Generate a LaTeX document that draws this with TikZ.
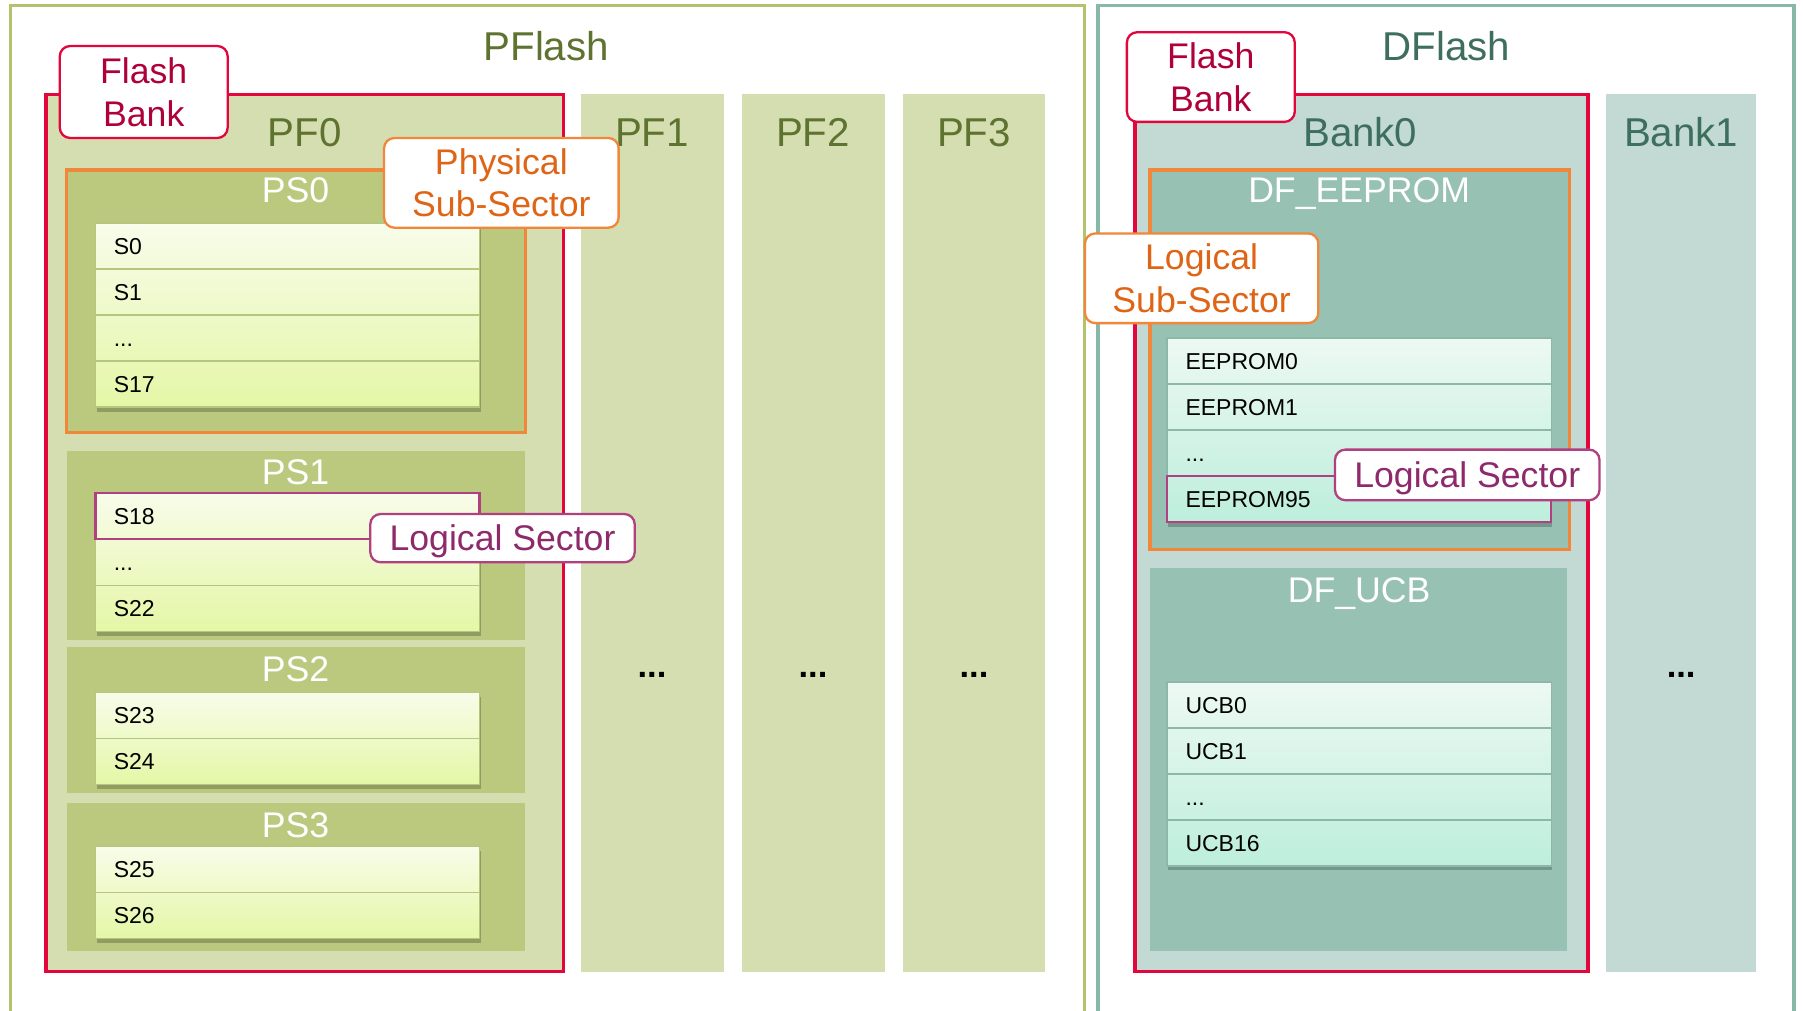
\documentclass[tikz,border=0pt]{standalone}
\usepackage{fontspec}
\setmainfont{Liberation Sans}
\usetikzlibrary{shadows}
\definecolor{pfborder}{HTML}{B2C36B}
\definecolor{pftitle}{HTML}{5F7330}
\definecolor{pfcol}{HTML}{D5DEB1}
\definecolor{psfill}{HTML}{BBC97E}
\definecolor{rowtop}{HTML}{F8FCEA}
\definecolor{rowbot}{HTML}{E4F7A6}
\definecolor{rowline}{HTML}{B5C77E}
\definecolor{redb}{HTML}{E2063C}
\definecolor{redtext}{HTML}{B0003A}
\definecolor{orangeb}{HTML}{F0873A}
\definecolor{orangetext}{HTML}{DF6516}
\definecolor{magb}{HTML}{B0407F}
\definecolor{magtext}{HTML}{8E2A6B}
\definecolor{dfborder}{HTML}{88B8A8}
\definecolor{dftitle}{HTML}{3E6E5E}
\definecolor{dfcol}{HTML}{C2DAD3}
\definecolor{dfsub}{HTML}{97C1B3}
\definecolor{drowtop}{HTML}{EDF9F3}
\definecolor{drowbot}{HTML}{BDEEDC}
\definecolor{drowline}{HTML}{8DB8A9}
\begin{document}
\begin{tikzpicture}[x=1pt,y=-1pt,
  box/.style 2 args={rectangle, anchor=north west, minimum width=#1pt, minimum height=#2pt, inner sep=0pt, outer sep=0pt},
  biglbl/.style={inner sep=0pt, text height=25pt, text depth=0pt, font=\fontsize{35}{40}\selectfont},
  midlbl/.style={inner sep=0pt, text height=22pt, text depth=0pt, font=\fontsize{31}{37}\selectfont},
  midfont/.style={font=\fontsize{31}{37}\selectfont},
  rowfont/.style={font=\fontsize{20}{24}\selectfont},
  callout/.style={draw=#1, line width=2pt, rounded corners=9pt, fill=white, align=center, inner sep=0pt, midfont},
  prow/.style={box={334}{40}, draw=rowline, line width=1.2pt, text width=302pt, inner xsep=16pt, align=left, rowfont, text height=14.3pt, text depth=0pt},
  drow/.style={box={334}{40}, draw=drowline, line width=1.2pt, text width=302pt, inner xsep=16pt, align=left, rowfont, text height=14.3pt, text depth=0pt},
  pstack/.style={top color=rowtop, bottom color=rowbot, drop shadow={shadow xshift=1pt, shadow yshift=-4pt, opacity=0.22, fill=black}},
  dstack/.style={top color=drowtop, bottom color=drowbot, drop shadow={shadow xshift=1pt, shadow yshift=-4pt, opacity=0.22, fill=black}},
  dots/.style={font=\fontsize{30}{34}\selectfont\bfseries}
]
\useasboundingbox (0,0) rectangle (1568,879);
\clip (0,0) rectangle (1568,879);
\fill[white] (0,0) rectangle (1568,879);

% ---------- PFlash ----------
\node[box={934}{920}, draw=pfborder, line width=3pt] (pflash) at (9,5) {};
\node[biglbl, text=pftitle] (pflashT) at (475,40) {PFlash};

\node[box={450}{763}, draw=redb, line width=3pt, fill=pfcol] (pf0) at (40,82) {};
\node[biglbl, text=pftitle] (pf0T) at (265,115) {PF0};

% PS0
\node[box={399}{228}, fill=psfill, draw=orangeb, line width=3pt] (ps0) at (58,148) {};
\node[midlbl, text=white] (ps0T) at (257,165) {PS0};
\node[box={334}{160}, pstack] (st0) at (83,194) {};
\node[prow] (s0) at (83,194) {S0};
\node[prow] (s1) at (83,234) {S1};
\node[prow] (s2) at (83,274) {...};
\node[prow] (s17) at (83,314) {S17};

% PS1
\node[box={399}{165}, fill=psfill] (ps1) at (58,392) {};
\node[midlbl, text=white] (ps1T) at (257,410) {PS1};
\node[box={334}{120}, pstack] (st1) at (83,429) {};
\node[prow] (s19) at (83,469) {...};
\node[prow] (s22) at (83,509) {S22};
\node[prow, draw=magb, line width=2pt] (s18) at (83,429) {S18};

% PS2
\node[box={399}{127}, fill=psfill] (ps2) at (58,563) {};
\node[midlbl, text=white] (ps2T) at (257,582) {PS2};
\node[box={334}{80}, pstack] (st2) at (83,602) {};
\node[prow] (s23) at (83,602) {S23};
\node[prow] (s24) at (83,642) {S24};

% PS3
\node[box={399}{129}, fill=psfill] (ps3) at (58,698) {};
\node[midlbl, text=white] (ps3T) at (257,717) {PS3};
\node[box={334}{80}, pstack] (st3) at (83,736) {};
\node[prow] (s25) at (83,736) {S25};
\node[prow] (s26) at (83,776) {S26};

% PF1-3
\node[box={125}{763}, fill=pfcol] (pf1) at (505,82) {};
\node[box={125}{763}, fill=pfcol] (pf2) at (645,82) {};
\node[box={124}{763}, fill=pfcol] (pf3) at (785,82) {};
\node[biglbl, text=pftitle] (pf1T) at (567,115) {PF1};
\node[biglbl, text=pftitle] (pf2T) at (707,115) {PF2};
\node[biglbl, text=pftitle] (pf3T) at (847,115) {PF3};
\node[dots] (pf1d) at (567,587) {...};
\node[dots] (pf2d) at (707,587) {...};
\node[dots] (pf3d) at (847,587) {...};

% callouts PFlash
\node[callout=redb, text=redtext, minimum width=146pt, minimum height=80pt] (fb1) at (125,80) {Flash\\Bank};
\node[callout=orangeb, text=orangetext, minimum width=204pt, minimum height=78pt] (pss) at (436,159) {Physical\\Sub-Sector};
\node[callout=magb, text=magtext, minimum width=230pt, minimum height=42pt, text height=22pt, text depth=0pt] (ls1) at (437,468) {Logical Sector};

% ---------- DFlash ----------
\node[box={605}{920}, draw=dfborder, line width=3pt] (dflash) at (955,5) {};
\node[biglbl, text=dftitle] (dflashT) at (1258,40) {DFlash};

\node[box={394}{763}, draw=redb, line width=3pt, fill=dfcol] (bank0) at (987,82) {};
\node[biglbl, text=dftitle] (bank0T) at (1183,115) {Bank0};

\node[box={365}{330}, fill=dfsub, draw=orangeb, line width=3pt] (dfe) at (1000,148) {};
\node[midlbl, text=white] (dfeT) at (1182,165) {DF\_EEPROM};
\node[box={334}{160}, dstack] (ste) at (1015,294) {};
\node[drow] (e0) at (1015,294) {EEPROM0};
\node[drow] (e1) at (1015,334) {EEPROM1};
\node[drow] (e2) at (1015,374) {...};
\node[drow, draw=magb, line width=2pt] (e95) at (1015,414) {EEPROM95};

\node[box={363}{333}, fill=dfsub] (dfu) at (1000,494) {};
\node[midlbl, text=white] (dfuT) at (1182,513) {DF\_UCB};
\node[box={334}{160}, dstack] (stu) at (1015,593) {};
\node[drow] (u0) at (1015,593) {UCB0};
\node[drow] (u1) at (1015,633) {UCB1};
\node[drow] (u2) at (1015,673) {...};
\node[drow] (u16) at (1015,713) {UCB16};

\node[box={130}{763}, fill=dfcol] (bank1) at (1397,82) {};
\node[biglbl, text=dftitle] (bank1T) at (1462,115) {Bank1};
\node[dots] (bank1d) at (1462,587) {...};

% callouts DFlash
\node[callout=redb, text=redtext, minimum width=146pt, minimum height=78pt] (fb2) at (1053,67) {Flash\\Bank};
\node[callout=orangeb, text=orangetext, minimum width=203pt, minimum height=78pt] (lss) at (1045,242) {Logical\\Sub-Sector};
\node[callout=magb, text=magtext, minimum width=230pt, minimum height=44pt, text height=22pt, text depth=0pt] (ls2) at (1276,413) {Logical Sector};
\end{tikzpicture}
\end{document}
